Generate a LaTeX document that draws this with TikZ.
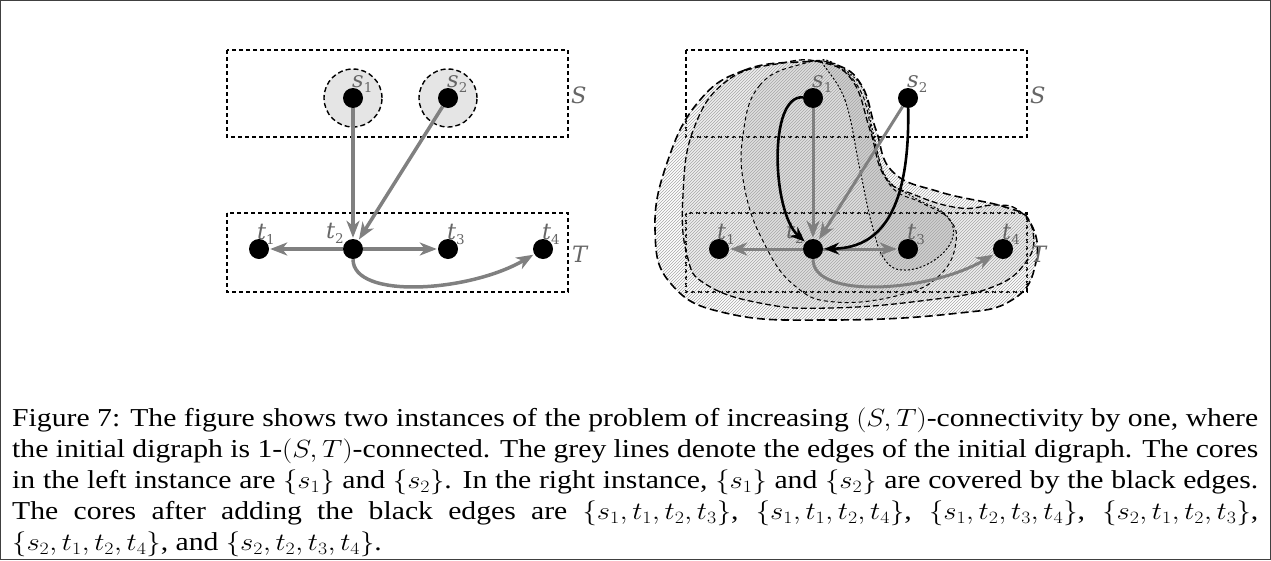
\documentclass[tikz,border=0pt]{standalone}
\usepackage{fontspec}
\setmainfont{Liberation Serif}
\newfontfamily\lblfont{DejaVu Serif}
\usetikzlibrary{arrows.meta,patterns}
\newcommand\lab[2]{{\lblfont\fontsize{22.5}{22.5}\selectfont\itshape #1}\raisebox{-5pt}{\lblfont\fontsize{13.5}{13.5}\selectfont #2}}
\newcommand\blobA{plot[smooth cycle, tension=0.75] coordinates {(800,62) (745,70) (700,100) (668,160) (655,230) (672,285) (730,314) (830,320) (950,314) (1012,300) (1036,262) (1030,222) (1005,207) (940,192) (893,172) (876,130) (862,86) (837,65)}}
\newcommand\blobB{plot[smooth cycle, tension=0.75] coordinates {(782,63) (728,80) (694,128) (683,195) (687,255) (707,285) (765,304) (830,308) (920,301) (990,288) (1026,262) (1033,232) (1018,210) (995,205) (960,208) (915,195) (885,177) (870,130) (852,80) (820,62)}}
\newcommand\blobC{plot[smooth cycle, tension=0.75] coordinates {(802,64) (760,85) (743,135) (745,190) (765,245) (795,286) (835,302) (900,295) (940,275) (956,242) (948,218) (922,203) (890,185) (874,140) (860,90) (832,64)}}
\newcommand\blobD{plot[smooth cycle, tension=0.7] coordinates {(822,60) (845,100) (860,170) (872,225) (885,260) (906,270) (936,259) (953,236) (945,214) (915,198) (886,177) (873,132) (860,84)}}
\tikzset{
  x=1pt, y=-1pt,
  dot/.style={circle, fill=black, inner sep=0pt, minimum size=20pt},
  score/.style={circle, draw=black, fill=black!10, line width=1.4pt, dash pattern=on 5pt off 3pt, inner sep=0pt, minimum size=58pt},
  lbl/.style={inner sep=0pt, text=black!60},
  setbox/.style={draw=black, line width=1.3pt, dash pattern=on 4pt off 3pt},
  garrow/.style={draw=black!50, line width=3.5pt, -{Stealth[length=17pt,width=13pt,inset=5pt]}, shorten >=1pt},
  barrow/.style={draw=black, line width=2.6pt, -{Stealth[length=15pt,width=12pt,inset=5pt]}, shorten >=1pt},
  bfill/.style={fill=black, fill opacity=0.065},
  bpat/.style={pattern=north east lines, pattern color=black!35},
  bthick/.style={draw=black, line width=1.6pt, dash pattern=on 8pt off 4pt},
  bmed/.style={draw=black, line width=1.3pt, dash pattern=on 6pt off 3pt},
  bthin/.style={draw=black, line width=1pt, dash pattern=on 4pt off 3pt},
  bdot/.style={draw=black, line width=1pt, dash pattern=on 2pt off 2pt},
}
\begin{document}
\begin{tikzpicture}
\useasboundingbox (0,0) rectangle (1271,560);
\draw[line width=1.2pt, black!75] (0.6,0.6) rectangle (1270.4,559.4);

% ---------- left instance ----------
\draw[setbox] (227,50) rectangle (568,137);
\draw[setbox] (227,213) rectangle (568,292);
\node[lbl, anchor=base west] (lS) at (571,103) {\lab{S}{}};
\node[lbl, anchor=base west] (lT) at (572,262) {\lab{T}{}};
\node[score] (cs1) at (353,98) {};
\node[score] (cs2) at (448,98) {};
\node[dot] (ls1) at (353,98) {};
\node[dot] (ls2) at (448,98) {};
\node[dot] (lt1) at (259,249) {};
\node[dot] (lt2) at (353,249) {};
\node[dot] (lt3) at (448,249) {};
\node[dot] (lt4) at (543,249) {};
\node[lbl, anchor=base west] (lls1) at (352,87) {\lab{s}{1}};
\node[lbl, anchor=base west] (lls2) at (447,87) {\lab{s}{2}};
\node[lbl, anchor=base west] (llt1) at (257,239) {\lab{t}{1}};
\node[lbl, anchor=base east] (llt2) at (344,238) {\lab{t}{2}};
\node[lbl, anchor=base west] (llt3) at (447,239) {\lab{t}{3}};
\node[lbl, anchor=base west] (llt4) at (542,239) {\lab{t}{4}};
\draw[garrow] (ls1) -- (lt2);
\draw[garrow] (ls2) -- (lt2);
\draw[garrow] (lt2) -- (lt1);
\draw[garrow] (lt2) -- (lt3);
\draw[garrow] (lt2) .. controls (353,300) and (470,292) .. (lt4);

% ---------- right instance ----------
\draw[setbox] (686,50) rectangle (1027,137);
\draw[setbox] (686,213) rectangle (1027,292);
\path[bfill] \blobB;
\path[bfill] \blobC;
\path[bfill] \blobD;
\path[bpat] \blobA;
\path[bthick] \blobA;
\path[bmed] \blobB;
\path[bthin] \blobC;
\path[bdot] \blobD;
\node[lbl, anchor=base west] (rS) at (1030,103) {\lab{S}{}};
\node[lbl, anchor=base west] (rT) at (1031,262) {\lab{T}{}};
\node[dot] (rs1) at (813,98) {};
\node[dot] (rs2) at (908,98) {};
\node[dot] (rt1) at (719,249) {};
\node[dot] (rt2) at (813,249) {};
\node[dot] (rt3) at (908,249) {};
\node[dot] (rt4) at (1003,249) {};
\node[lbl, anchor=base west] (lrs1) at (812,87) {\lab{s}{1}};
\node[lbl, anchor=base west] (lrs2) at (907,87) {\lab{s}{2}};
\node[lbl, anchor=base west] (lrt1) at (717,239) {\lab{t}{1}};
\node[lbl, anchor=base east] (lrt2) at (804,238) {\lab{t}{2}};
\node[lbl, anchor=base west] (lrt3) at (907,239) {\lab{t}{3}};
\node[lbl, anchor=base west] (lrt4) at (1002,239) {\lab{t}{4}};
\draw[garrow, line width=3pt] (rs1) -- (rt2);
\draw[garrow, line width=3pt] (rs2) -- (rt2);
\draw[garrow, line width=3pt] (rt2) -- (rt1);
\draw[garrow, line width=3pt] (rt2) -- (rt3);
\draw[garrow, line width=3pt] (rt2) .. controls (813,300) and (930,292) .. (rt4);
\draw[barrow] (rs1) .. controls (768,95) and (772,212) .. (rt2);
\draw[barrow] (rs2) .. controls (910,215) and (878,248) .. (rt2);

% ---------- caption ----------
\begin{scope}[shift={(12,408)}, xscale=1.15]
\node[transform shape, anchor=north west, inner sep=0pt, text width=1083.5pt, align=justify,
      font=\fontsize{25.8}{31}\selectfont] (cap) at (0,0)
{\noindent Figure 7: The figure shows two instances of the problem of increasing $(S,T)$-connectivity by one, where\linebreak the initial digraph is 1-$(S,T)$-connected. The grey lines denote the edges of the initial digraph. The cores\linebreak in the left instance are $\{s_1\}$ and $\{s_2\}$. In the right instance, $\{s_1\}$ and $\{s_2\}$ are covered by the black edges.\linebreak The cores after adding the black edges are $\{s_1,t_1,t_2,t_3\}$, $\{s_1,t_1,t_2,t_4\}$, $\{s_1,t_2,t_3,t_4\}$, $\{s_2,t_1,t_2,t_3\}$,\linebreak $\{s_2,t_1,t_2,t_4\}$, and $\{s_2,t_2,t_3,t_4\}$.};
\end{scope}
\end{tikzpicture}
\end{document}
